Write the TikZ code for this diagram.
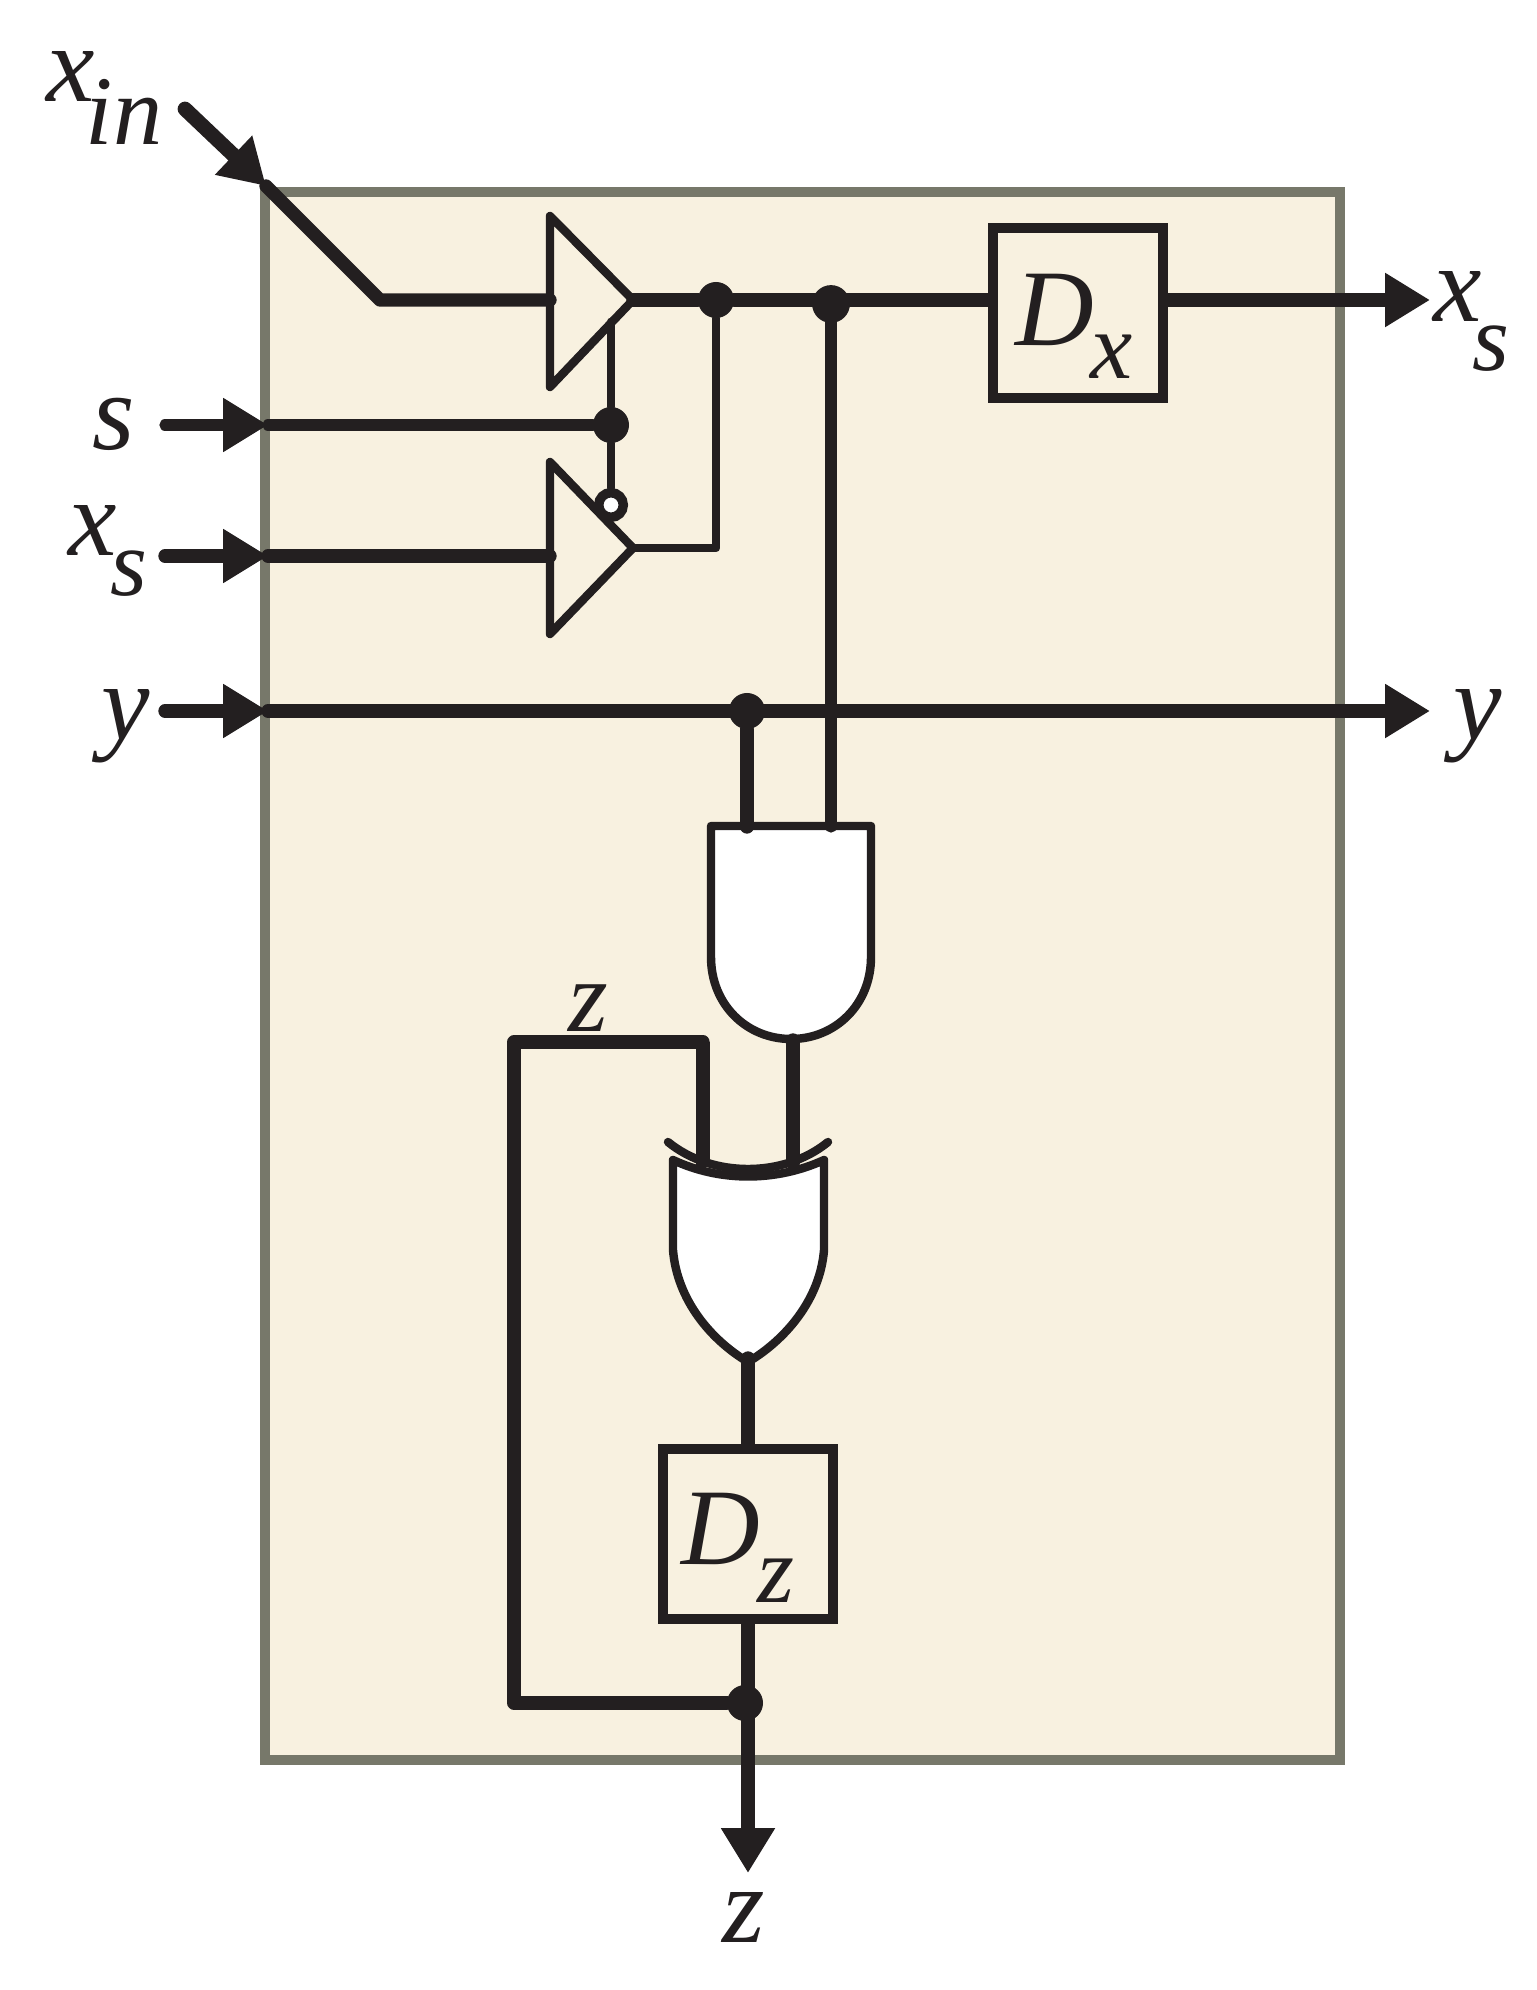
\documentclass[tikz,border=0pt]{standalone}
\usepackage{fontspec}
\setmainfont{Liberation Serif}
\usetikzlibrary{arrows.meta}
\definecolor{ink}{HTML}{231F20}
\definecolor{panelfill}{HTML}{F8F1E0}
\definecolor{panelline}{HTML}{77786A}
\tikzset{
  x=0.02cm,y=-0.02cm,
  panel/.style={draw=panelline,fill=panelfill,line width=5.6pt},
  wire/.style={draw=ink,line width=7.6pt,line cap=round,line join=round},
  thin wire/.style={draw=ink,line width=5pt,line cap=round,line join=round},
  gate/.style={draw=ink,fill=#1,line width=4.8pt,line join=round,line cap=round},
  gate/.default=panelfill,
  head/.style={-{Triangle[length=25.5pt,width=29pt]}},
  dot/.style={circle,fill=ink,inner sep=0pt,minimum size=20.5pt},
  bubble/.style={circle,draw=ink,fill=white,line width=5.4pt,inner sep=0pt,minimum size=14pt},
  dbox/.style={draw=ink,fill=panelfill,line width=5.5pt,inner sep=0pt,minimum width=97pt,minimum height=97pt},
  lab/.style={inner sep=0pt,font=\fontsize{62}{62}\selectfont\itshape,text=ink},
  sub/.style={inner sep=0pt,font=\fontsize{54}{54}\selectfont\itshape,text=ink},
}
\begin{document}
\begin{tikzpicture}
\useasboundingbox (0,0) rectangle (1536,1990);
\fill[white] (0,0) rectangle (1536,1990);
\draw[panel] (265,192) rectangle (1340,1760);

% named points
\coordinate (xinS) at (185,109);
\coordinate (xinT) at (266,186);
\coordinate (xinB) at (380,300);
\coordinate (b1in) at (550,300);
\coordinate (b1out) at (633,300);
\coordinate (sS) at (165,425);
\coordinate (sT) at (268,425);
\coordinate (xsS) at (165,556);
\coordinate (xsT) at (268,556);
\coordinate (b2in) at (550,556);
\coordinate (b2out) at (633,548);
\coordinate (yS) at (165,711);
\coordinate (yT) at (268,711);
\coordinate (yR) at (1430,711);
\coordinate (xsOutT) at (1430,300);
\coordinate (b1en) at (611,322);
\coordinate (zOutT) at (748,1873);
\coordinate (j2) at (716,548);
\coordinate (a1) at (747,827);
\coordinate (a2) at (831,827);
\coordinate (aout) at (793,1040);
\coordinate (x1) at (703,1167);
\coordinate (x2) at (793,1163);
\coordinate (xout) at (748,1358);
\coordinate (fbA) at (703,1042);
\coordinate (fbB) at (514,1042);
\coordinate (fbC) at (514,1703);

% gates
\draw[gate=panelfill] (550,216) -- (633,300) -- (550,387) -- cycle;
\draw[gate=panelfill] (550,462) -- (633,548) -- (550,634) -- cycle;
\draw[gate=white] (711,826) -- (871,826) -- (871,957)
  .. controls (871,1005) and (835,1039) .. (791,1039)
  .. controls (747,1039) and (711,1005) .. (711,957) -- cycle;
\draw[gate=white] (673,1160) .. controls (720,1182) and (776,1182) .. (824,1160)
  -- (824,1250) .. controls (820,1300) and (785,1340) .. (748,1362)
  .. controls (711,1340) and (677,1300) .. (673,1250) -- cycle;

% boxes and dots
\node[dbox] (Dx) at (1078,313) {};
\node[dbox] (Dz) at (748,1534) {};
\node[dot] (d1) at (716,300) {};
\node[dot,minimum height=18.5pt,minimum width=21.5pt] (d2) at (831,304) {};
\node[dot] (d3) at (611,425) {};
\node[dot] (d4) at (747,711) {};
\node[dot] (d5) at (745,1703) {};

% wires
\draw[wire,line width=8.4pt,head] (xinS) -- (xinT);
\draw[wire] (xinT) -- (xinB) -- (b1in);
\draw[wire] (b1out) -- (d1) -- (d2.center |- d1) -- (Dx.west |- d1);
\draw[wire,head] (Dx.east |- xsOutT) -- (xsOutT);
\draw[wire,line width=6.4pt,head] (sS) -- (sT);
\draw[wire,line width=6.4pt] (sT) -- (d3);
\draw[wire,head] (xsS) -- (xsT);
\draw[wire] (xsT) -- (b2in);
\draw[wire,head] (yS) -- (yT);
\draw[wire,head] (yT) -- (yR);
\draw[thin wire] (b1en) -- (d3);
\draw[thin wire] (d1) -- (j2) -- (b2out);
\draw[wire,line width=6.4pt] (d2) -- (a2);
\draw[wire] (d4) -- (a1);
\draw[wire] (aout) -- (x2);
\draw[wire,line cap=butt] (x1) -- (fbA);
\draw[wire] (fbA) -- (fbB) -- (fbC) -- (d5);
\draw[wire] (xout) -- (Dz.north -| xout);
\draw[wire,head] (Dz.south) -- (zOutT);

% xor back arc
\draw[gate=none,fill=none] (668,1142) .. controls (712,1178) and (784,1178) .. (828,1142);

% inversion bubble
\node[bubble] (inv) at (611,505) {};
\draw[thin wire] (d3) -- (inv.north);

% labels
\node[lab] (Lxin) at (71,77) {x};
\node[sub,font=\fontsize{56}{56}\selectfont\itshape] (Lin) at (124,112) {in};
\node[lab] (Ls) at (114,424) {s};
\node[lab] (Lxs) at (93,530) {x};
\node[sub] (Lxss) at (129,574) {s};
\node[lab] (Ly) at (126,726) {y};
\node[lab] (Lyr) at (1478,726) {y};
\node[lab] (Lxr) at (1458,297) {x};
\node[sub] (Lxrs) at (1491,349) {s};
\node[lab] (LD1) at (1055,310) {D};
\node[sub] (LD1s) at (1112,357) {x};
\node[lab] (LD2) at (721,1529) {D};
\node[sub] (LD2s) at (776,1581) {z};
\node[lab,font=\fontsize{58}{58}\selectfont\itshape] (Lzf) at (588,1008) {z};
\node[lab] (Lzb) at (744,1917) {z};
\end{tikzpicture}
\end{document}
